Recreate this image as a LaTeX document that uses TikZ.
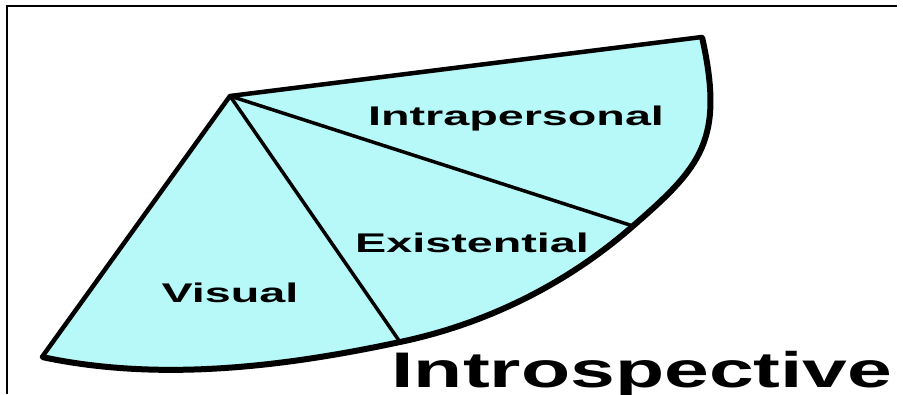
\documentclass[tikz,border=0pt]{standalone}
\usepackage{fontspec}
\setmainfont{Liberation Sans}
\usepackage{tikz}
\definecolor{fan}{RGB}{183,248,248}
\tikzset{
  sector/.style  = {fill=fan},
  rim/.style     = {line width=6pt, line join=round},
  side/.style    = {line width=4.5pt, line cap=round, line join=round},
  divider/.style = {line width=3.5pt},
  frame/.style   = {line width=1.5pt},
  lbl/.style     = {font=\fontsize{27}{30}\selectfont\bfseries, anchor=base,
                    inner sep=0pt, xscale=1.73},
  title/.style   = {font=\fontsize{50}{55}\selectfont\bfseries, anchor=base,
                    inner sep=0pt, xscale=1.61},
}
% outer curve of the fan, from tip round to foot
\newcommand{\fanrim}{(tip) .. controls (725,140) and (701,167) .. (cutA)
  .. controls (567,284) and (486,324) .. (cutB)
  .. controls (283,367) and (159,382) .. (foot)}

\begin{document}
\begin{tikzpicture}[x=1pt, y=-1pt]
    \useasboundingbox (0,0) rectangle (903,394);
    \draw[frame] (897,6) -| (7,394);

    % corners of the fan
    \coordinate (apex) at (230,96);
    \coordinate (tip)  at (702,37);
    \coordinate (foot) at (42,357);
    \coordinate (cutA) at (633,226);
    \coordinate (cutB) at (400,342);

    \fill[sector] (apex) -- \fanrim -- cycle;

    \draw[divider] (apex) -- (cutA);
    \draw[divider] (apex) -- (cutB);
    \draw[side] (foot) -- (apex) -- (tip);
    \draw[rim] \fanrim;

    \node[lbl] (intra) at (516,125) {Intrapersonal};
    \node[lbl] (exist) at (472,252) {Existential};
    \node[lbl] (vis)   at (230,302) {Visual};
    \node[title] (intro) at (642,387) {Introspective};
\end{tikzpicture}
\end{document}
